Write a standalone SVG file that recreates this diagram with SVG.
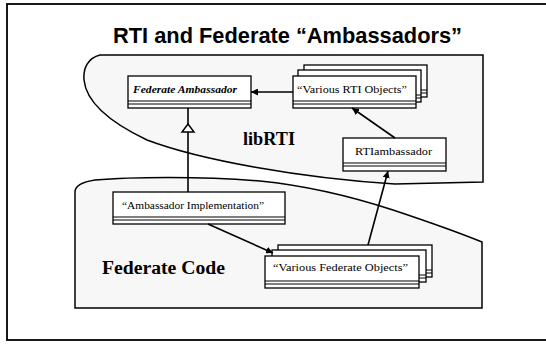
<svg xmlns="http://www.w3.org/2000/svg" width="546" height="344" viewBox="0 0 546 344">
<defs>
<style>
.frame{fill:#fff;stroke:#000;stroke-width:1.8}
.region{fill:#f7f7f7;stroke:#000;stroke-width:1.5}
.box{fill:#fff;stroke:#000;stroke-width:1.3}
.sep{stroke:#000;stroke-width:1.1}
.lbl{font-family:"Liberation Serif","Times New Roman",serif;font-size:10.5px;fill:#000}
.conn{stroke:#000;stroke-width:1.6;fill:none}
.title{font-family:"Liberation Sans",Arial,sans-serif;font-weight:bold;font-size:21.5px;fill:#000}
.rlbl{font-family:"Liberation Serif","Times New Roman",serif;font-weight:bold;fill:#000}
</style>
<marker id="arr" viewBox="0 0 10 10" refX="10" refY="5" markerWidth="7" markerHeight="7" markerUnits="userSpaceOnUse" orient="auto">
<path d="M0,0 L10,5 L0,10 Z" fill="#000"/>
</marker>
</defs>
<rect class="frame" x="7" y="4" width="545" height="336"/>
<text class="title" x="113" y="43" textLength="349" lengthAdjust="spacingAndGlyphs">RTI and Federate “Ambassadors”</text>

<g id="libRTI-region">
<path class="region" d="M483,55 L100,55 C88,58 83,68 84,80 C86,100 105,120 147,140 C200,160 300,178 395,184 L483,182 Z"/>
<text class="rlbl" x="243" y="145" font-size="18" textLength="52" lengthAdjust="spacingAndGlyphs">libRTI</text>
</g>
<g id="federate-region">
<path class="region" d="M75,308 L75,192 C75,186 82,182 95,180 C130,177 200,176 260,181 C300,185 350,196 393,210 C420,219 450,229 482,242 L482,308 Z"/>
<text class="rlbl" x="102" y="274" font-size="18" textLength="123" lengthAdjust="spacingAndGlyphs">Federate Code</text>
</g>

<g id="federate-ambassador">
<rect class="box" x="128" y="76" width="123" height="32"/>
<line class="sep" x1="128" y1="101" x2="251" y2="101"/>
<line class="sep" x1="128" y1="104" x2="251" y2="104"/>
<text class="lbl" x="133" y="93" font-style="italic" font-weight="bold" textLength="104" lengthAdjust="spacingAndGlyphs">Federate Ambassador</text>
</g>

<g id="various-rti-objects">
<rect class="box" x="304" y="65" width="123" height="32"/>
<line class="sep" x1="304" y1="90" x2="427" y2="90"/>
<line class="sep" x1="304" y1="93" x2="427" y2="93"/>
<rect class="box" x="298" y="70" width="123" height="32"/>
<line class="sep" x1="298" y1="95" x2="421" y2="95"/>
<line class="sep" x1="298" y1="98" x2="421" y2="98"/>
<rect class="box" x="293" y="76" width="123" height="32"/>
<line class="sep" x1="293" y1="101" x2="416" y2="101"/>
<line class="sep" x1="293" y1="104" x2="416" y2="104"/>
<text class="lbl" x="297" y="93" textLength="110" lengthAdjust="spacingAndGlyphs">“Various RTI Objects”</text>
</g>

<g id="rti-ambassador">
<rect class="box" x="343" y="138" width="103" height="33"/>
<line class="sep" x1="343" y1="163" x2="446" y2="163"/>
<line class="sep" x1="343" y1="166" x2="446" y2="166"/>
<text class="lbl" x="355" y="155" textLength="77" lengthAdjust="spacingAndGlyphs">RTIambassador</text>
</g>

<g id="ambassador-implementation">
<rect class="box" x="113" y="192" width="172" height="32"/>
<line class="sep" x1="113" y1="217" x2="285" y2="217"/>
<line class="sep" x1="113" y1="220" x2="285" y2="220"/>
<text class="lbl" x="122" y="209" textLength="142" lengthAdjust="spacingAndGlyphs">“Ambassador Implementation”</text>
</g>

<g id="various-federate-objects">
<rect class="box" x="278" y="245" width="154" height="32"/>
<line class="sep" x1="278" y1="270" x2="432" y2="270"/>
<line class="sep" x1="278" y1="273" x2="432" y2="273"/>
<rect class="box" x="272" y="250" width="154" height="32"/>
<line class="sep" x1="272" y1="275" x2="426" y2="275"/>
<line class="sep" x1="272" y1="278" x2="426" y2="278"/>
<rect class="box" x="265" y="256" width="154" height="32"/>
<line class="sep" x1="265" y1="281" x2="419" y2="281"/>
<line class="sep" x1="265" y1="284" x2="419" y2="284"/>
<text class="lbl" x="273" y="271" textLength="135" lengthAdjust="spacingAndGlyphs">“Various Federate Objects”</text>
</g>

<g id="connectors">
<line class="conn" x1="293" y1="92" x2="251" y2="92" marker-end="url(#arr)"/>
<line class="conn" x1="395" y1="138" x2="352" y2="108" marker-end="url(#arr)"/>
<line class="conn" x1="188" y1="192" x2="188" y2="132"/>
<line class="conn" x1="188" y1="124" x2="188" y2="108"/>
<polygon points="188,124 182,132 194,132" fill="#fff" stroke="#000" stroke-width="1.5"/>
<line class="conn" x1="208" y1="224" x2="273" y2="253" marker-end="url(#arr)"/>
<line class="conn" x1="368" y1="245" x2="388" y2="171" marker-end="url(#arr)"/>
</g>
</svg>
